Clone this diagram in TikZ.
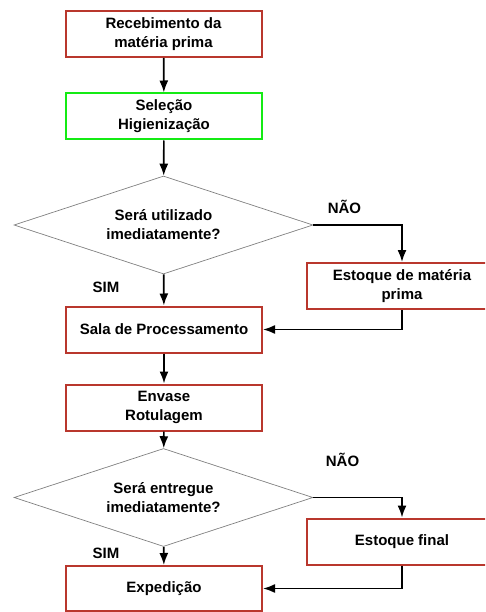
\documentclass[tikz,border=0pt]{standalone}
\usepackage{fontspec}
\setmainfont{Liberation Sans}
\usetikzlibrary{shapes.geometric,arrows.meta}
\definecolor{boxred}{RGB}{185,55,45}
\definecolor{verdeclaro}{RGB}{20,235,20}

\begin{document}
\begin{tikzpicture}[>={Latex[length=12pt,width=9pt]},x=1pt,y=-1pt,
    etapa/.style={draw=#1,line width=2pt,minimum width=196pt,minimum height=46pt,
                  inner sep=0pt,align=center,font=\fontsize{15}{19}\selectfont\bfseries},
    etapa/.default=boxred,
    decisao/.style={diamond,draw=gray,line width=0.7pt,aspect=3,minimum width=299pt,
                  minimum height=98pt,inner sep=0pt,align=center,font=\fontsize{15}{19}\selectfont\bfseries},
    rotulo/.style={font=\fontsize{15}{19}\selectfont\bfseries},
    seta/.style={->,line width=1.7pt}]
                        \useasboundingbox (0,0) rectangle (485,612);
                        \clip (0,0) rectangle (485,612);
                        \node[etapa] (rec) at (163.5,34) {Recebimento da\\mat\'eria prima};
                        \node[etapa=verdeclaro] (sel) at (164,116.5) {Sele\c{c}\~ao\\Higieniza\c{c}\~ao};
                        \node[decisao] (dec1) at (163.5,225) {Ser\'a utilizado\\imediatamente?};
                        \node[etapa,minimum width=190pt] (est1) at (402,286) {Estoque de mat\'eria\\prima};
                        \node[etapa] (proc) at (164,329.5) {Sala de Processamento};
                        \node[etapa] (env) at (164,407.5) {Envase\\Rotulagem};
                        \node[decisao] (dec2) at (163.5,497.5) {Ser\'a entregue\\imediatamente?};
                        \node[etapa,minimum width=190pt] (est2) at (402,541.5) {Estoque final};
                        \node[etapa,minimum height=45pt] (exp) at (164,588.5) {Expedi\c{c}\~ao};
                        % rotulos das decisoes
                        \node[rotulo] (nao1) at (344.5,207) {N\~AO};
                        \node[rotulo] (sim1) at (106,287) {SIM};
                        \node[rotulo] (nao2) at (342.5,460) {N\~AO};
                        \node[rotulo] (sim2) at (106,553) {SIM};
                        % setas
                        \draw[seta] (rec) -- (sel);
                        \draw[seta] (sel) -- (dec1);
                        \draw[seta] (dec1.east) -| (est1.north);
                        \draw[seta] (dec1) -- (proc);
                        \draw[seta] (est1.south) |- (proc.east);
                        \draw[seta] (proc) -- (env);
                        \draw[seta] (env) -- (dec2);
                        \draw[seta] (dec2.east) -| (est2.north);
                        \draw[seta] (dec2) -- (exp);
                        \draw[seta] (est2.south) |- (exp.east);
                    \end{tikzpicture}
\end{document}
